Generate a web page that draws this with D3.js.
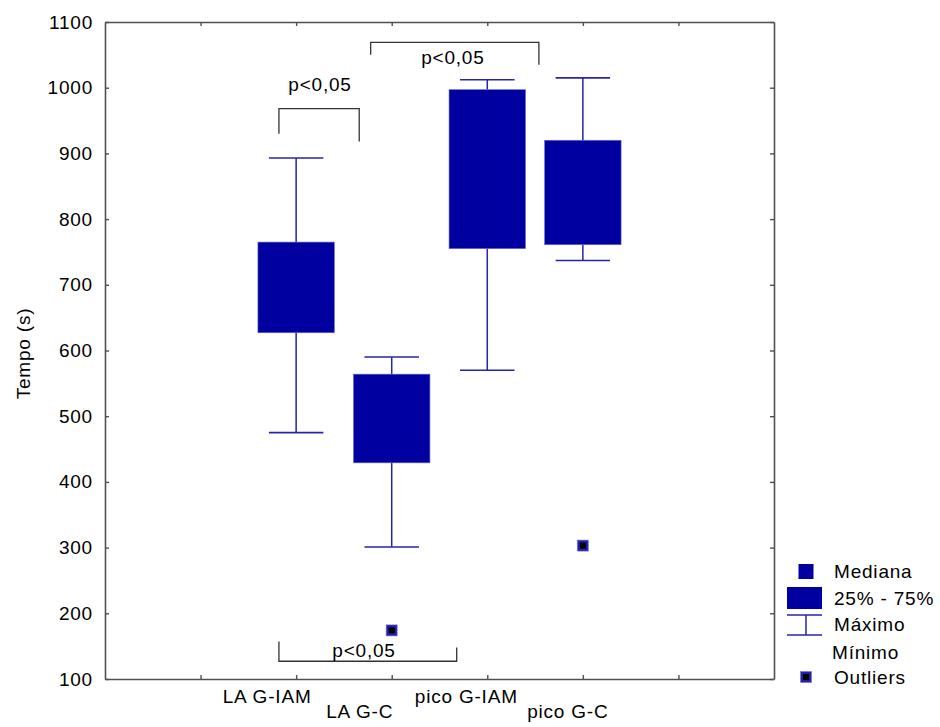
<!DOCTYPE html>
<html>
<head>
<meta charset="utf-8">
<script src="https://cdn.jsdelivr.net/npm/d3@7"></script>
<style>
  html, body { margin: 0; padding: 0; background: #fff; }
  svg { display: block; }
  text { font-family: "Liberation Sans", Arial, sans-serif; font-size: 19px; letter-spacing: 0.8px; fill: #000; }
</style>
</head>
<body>
<svg id="chart" width="940" height="727"></svg>
<script>
// Groups and box-plot statistics (Tempo in seconds)
const categories = ["LA G-IAM", "LA G-C", "pico G-IAM", "pico G-C"];
const maximo  = [893, 590, 1012, 1015];
const q75     = [765, 564, 997, 920];
const mediana = [700, 500, 880, 820];
const q25     = [627, 429, 755, 761];
const minimo  = [475, 301, 570, 737];
const outliers = [[1, 174], [3, 303]];           // [group index, value]
const yTicks = [100, 200, 300, 400, 500, 600, 700, 800, 900, 1000, 1100];
const yLabel = "Tempo (s)";
const legendLabels = ["Mediana", "25% - 75%", "Máximo", "Mínimo", "Outliers"];
const sigLabel = "p<0,05";

const svg = d3.select("#chart");
const plotL = 105, plotR = 774, plotT = 22, plotB = 679;

// slots 0..7 across the plot; groups occupy slots 2..5
const x = d3.scaleLinear().domain([0, 7]).range([plotL, plotR]);
const y = d3.scaleLinear().domain([100, 1100]).range([plotB, plotT]);
const step = x(1) - x(0);
const boxW = step * 0.8;
const capW = step * 0.57;
const pos = i => x(i + 2);

const axisColor = "#505050";
const boxColor = "#0000a0";
const whiskerColor = "#2424ac";

// Frame and inward ticks
function styleAxis(g) {
  g.selectAll(".domain").attr("stroke", axisColor).attr("stroke-width", 1.6);
  g.selectAll(".tick line").attr("stroke", axisColor).attr("stroke-width", 1.4);
  g.selectAll(".tick text").attr("fill", "#000");
}
svg.append("g").attr("transform", `translate(${plotL},0)`)
  .call(d3.axisLeft(y).tickValues(yTicks).tickFormat(d3.format("d")).tickSize(-4).tickPadding(12).tickSizeOuter(0))
  .call(styleAxis);
svg.append("g").attr("transform", `translate(${plotR},0)`)
  .call(d3.axisRight(y).tickValues(yTicks).tickSize(-4).tickFormat("").tickSizeOuter(0))
  .call(styleAxis);
svg.append("g").attr("transform", `translate(0,${plotB})`)
  .call(d3.axisBottom(x).tickValues([1, 2, 3, 4, 5, 6]).tickSize(-4).tickFormat("").tickSizeOuter(0))
  .call(styleAxis);
svg.append("g").attr("transform", `translate(0,${plotT})`)
  .call(d3.axisTop(x).tickValues([1, 2, 3, 4, 5, 6]).tickSize(-4).tickFormat("").tickSizeOuter(0))
  .call(styleAxis);

// Staggered category labels
const labelShift = [-29, -32, -21, -15];
svg.append("g").selectAll("text").data(categories).join("text")
  .attr("x", (d, i) => pos(i) + labelShift[i])
  .attr("y", (d, i) => i % 2 === 0 ? 703 : 718)
  .attr("text-anchor", "middle")
  .text(d => d);

// Y axis title
svg.append("text")
  .attr("transform", `translate(30,${(plotT + plotB) / 2 + 3}) rotate(-90)`)
  .attr("text-anchor", "middle")
  .text(yLabel);

// Boxes
const boxes = svg.append("g");
categories.forEach((c, i) => {
  const cx = pos(i);
  const g = boxes.append("g");
  g.append("line").attr("x1", cx).attr("x2", cx).attr("y1", y(maximo[i])).attr("y2", y(q75[i]))
    .attr("stroke", whiskerColor).attr("stroke-width", 1.5);
  g.append("line").attr("x1", cx).attr("x2", cx).attr("y1", y(q25[i])).attr("y2", y(minimo[i]))
    .attr("stroke", whiskerColor).attr("stroke-width", 1.5);
  [maximo[i], minimo[i]].forEach(v => {
    g.append("line").attr("x1", cx - capW / 2).attr("x2", cx + capW / 2).attr("y1", y(v)).attr("y2", y(v))
      .attr("stroke", whiskerColor).attr("stroke-width", 1.6);
  });
  g.append("rect").attr("x", cx - boxW / 2).attr("width", boxW)
    .attr("y", y(q75[i])).attr("height", y(q25[i]) - y(q75[i]))
    .attr("fill", boxColor).attr("stroke", "#6a6ac8").attr("stroke-width", 0.6);
  g.append("rect").attr("x", cx - 7).attr("y", y(mediana[i]) - 7).attr("width", 14).attr("height", 14)
    .attr("fill", boxColor);
});

// Outlier markers
function outlierMark(sel, cx, cy) {
  sel.append("rect").attr("x", cx - 5.5).attr("y", cy - 5.5).attr("width", 11).attr("height", 11)
    .attr("fill", "#2020a8").attr("stroke", "#7070cc").attr("stroke-width", 0.8).attr("stroke-dasharray", "2,1");
  sel.append("rect").attr("x", cx - 3).attr("y", cy - 3).attr("width", 6).attr("height", 6).attr("fill", "#000");
}
outliers.forEach(([i, v]) => outlierMark(svg, pos(i), y(v)));

// Significance brackets (x in slot units, y in data units)
const brackets = [
  { x1: 1.82, x2: 2.66, yLine: 968, yL: 930, yR: 918, tx: 2.25, ty: 995 },
  { x1: 2.78, x2: 4.54, yLine: 1069, yL: 1050, yR: 1035, tx: 3.64, ty: 1036 },
  { x1: 1.82, x2: 3.68, yLine: 127, yL: 157, yR: 148, tx: 2.71, ty: 134 }
];
const br = svg.append("g");
brackets.forEach(b => {
  br.append("path")
    .attr("d", `M${x(b.x1)},${y(b.yL)}V${y(b.yLine)}H${x(b.x2)}V${y(b.yR)}`)
    .attr("fill", "none").attr("stroke", "#333").attr("stroke-width", 1.3);
  br.append("text").attr("x", x(b.tx)).attr("y", y(b.ty)).attr("text-anchor", "middle").text(sigLabel);
});

// Legend
const lg = svg.append("g");
const lx = 806, tx = 834;
lg.append("rect").attr("x", lx - 7.5).attr("y", 564).attr("width", 15).attr("height", 15).attr("fill", boxColor);
lg.append("rect").attr("x", 787).attr("y", 587).attr("width", 35).attr("height", 22).attr("fill", boxColor);
lg.append("line").attr("x1", 787).attr("x2", 822).attr("y1", 615).attr("y2", 615).attr("stroke", whiskerColor).attr("stroke-width", 1.5);
lg.append("line").attr("x1", 787).attr("x2", 822).attr("y1", 635).attr("y2", 635).attr("stroke", whiskerColor).attr("stroke-width", 1.5);
lg.append("line").attr("x1", lx).attr("x2", lx).attr("y1", 615).attr("y2", 635).attr("stroke", whiskerColor).attr("stroke-width", 1.5);
outlierMark(lg, lx, 677);
const legendY = [578, 605, 631, 659, 684];
const legendX = [tx, tx, tx, 832, tx];
lg.selectAll("text.leg").data(legendLabels).join("text").attr("class", "leg")
  .attr("x", (d, i) => legendX[i]).attr("y", (d, i) => legendY[i]).text(d => d);
</script>
</body>
</html>
